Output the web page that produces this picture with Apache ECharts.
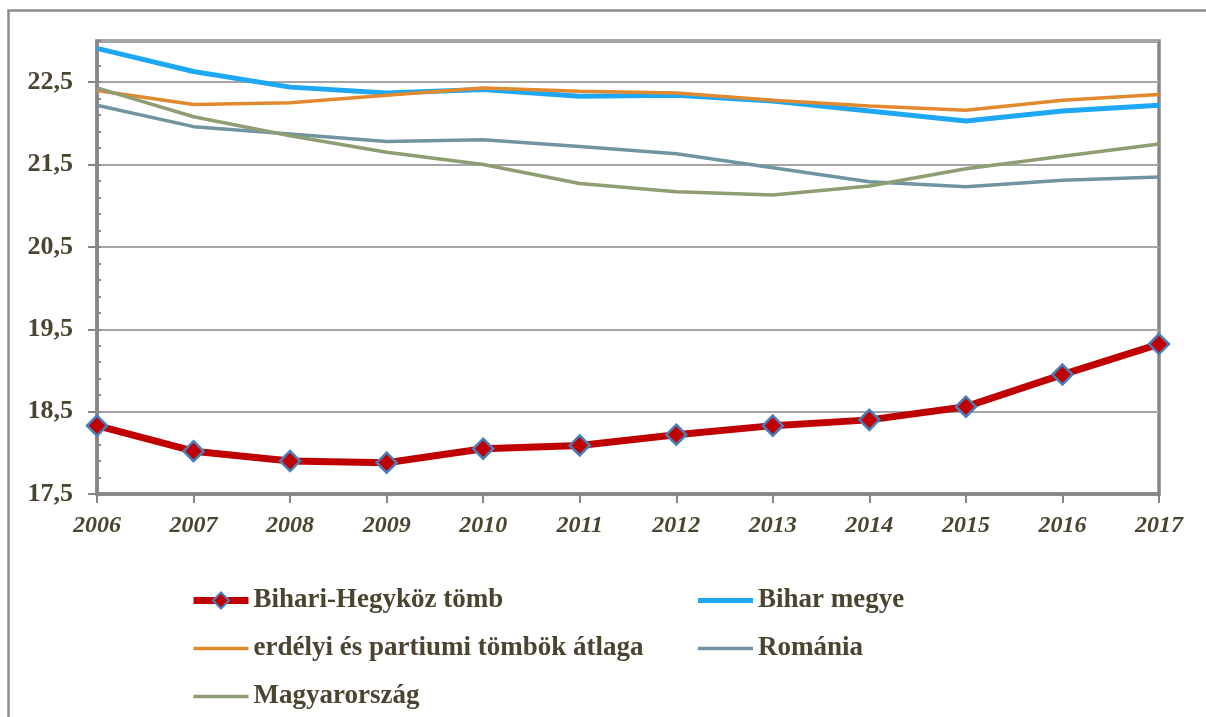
<!DOCTYPE html>
<html>
<head>
<meta charset="utf-8">
<script src="https://cdn.jsdelivr.net/npm/echarts@6/dist/echarts.min.js"></script>
<style>
  html, body { margin: 0; padding: 0; background: #fff; }
  #chart { width: 1206px; height: 717px; }
</style>
</head>
<body>
<div id="chart"></div>
<script>
// years on the x axis
var years = ['2006', '2007', '2008', '2009', '2010', '2011', '2012', '2013', '2014', '2015', '2016', '2017'];

// values
var bihariHegykoz = [18.33, 18.02, 17.90, 17.88, 18.05, 18.09, 18.22, 18.33, 18.40, 18.56, 18.95, 19.32];
var biharMegye = [22.91, 22.63, 22.44, 22.37, 22.41, 22.33, 22.34, 22.27, 22.15, 22.03, 22.15, 22.22];
var erdelyiAtlag = [22.40, 22.23, 22.25, 22.34, 22.43, 22.39, 22.37, 22.28, 22.21, 22.16, 22.28, 22.35];
var romania = [22.22, 21.96, 21.87, 21.78, 21.80, 21.72, 21.63, 21.46, 21.29, 21.23, 21.31, 21.35];
var magyarorszag = [22.43, 22.08, 21.85, 21.65, 21.50, 21.27, 21.17, 21.13, 21.24, 21.45, 21.60, 21.75];

var textColor = '#4a4430';
var serif = 'Liberation Serif';

// legend icon: a plain bar for the series without markers
function barIcon(h) {
  return 'path://M0 0H55V' + h + 'H0Z';
}

var leftLegend = [
  { name: 'Bihari-Hegyköz tömb' },
  { name: 'erdélyi és partiumi tömbök átlaga', icon: barIcon(3.5) },
  { name: 'Magyarország', icon: barIcon(3.5) }
];
var rightLegend = [
  { name: 'Bihar megye', icon: barIcon(5) },
  { name: 'Románia', icon: barIcon(3.5) }
];

var myChart = echarts.init(document.getElementById('chart'));

var legendText = {
  fontFamily: serif,
  fontWeight: 'bold',
  fontSize: 27,
  color: textColor
};

var option = {
  animation: false,
  graphic: [{
    type: 'rect',
    shape: { x: 8.5, y: 10.5, width: 1400, height: 900 },
    style: { fill: 'none', stroke: '#8c8c8c', lineWidth: 2.5 },
    silent: true
  }],
  grid: {
    left: 97,
    right: 47,
    top: 41,
    bottom: 223,
    show: true,
    borderColor: '#868686',
    borderWidth: 3.5
  },
  legend: [{
    data: leftLegend,
    orient: 'vertical',
    left: 190,
    top: 587,
    padding: 0,
    itemWidth: 55,
    itemHeight: 20,
    itemGap: 21,
    symbolKeepAspect: true,
    lineStyle: { width: 'inherit' },
    textStyle: legendText
  }, {
    data: rightLegend,
    orient: 'vertical',
    left: 698,
    top: 587,
    padding: 0,
    itemWidth: 55,
    itemHeight: 20,
    itemGap: 21,
    symbolKeepAspect: true,
    lineStyle: { width: 'inherit' },
    textStyle: legendText
  }],
  xAxis: {
    type: 'category',
    data: years,
    boundaryGap: false,
    axisLine: { lineStyle: { color: '#868686', width: 3.5 } },
    axisTick: { show: true, length: 9, lineStyle: { color: '#868686', width: 2 } },
    axisLabel: {
      margin: 20,
      fontFamily: serif,
      fontWeight: 'bold',
      fontStyle: 'italic',
      fontSize: 24,
      color: textColor
    },
    splitLine: { show: false }
  },
  yAxis: [{
    type: 'value',
    min: 17.5,
    max: 23,
    interval: 1,
    axisLine: { show: true, lineStyle: { color: '#868686', width: 3.5 } },
    axisTick: { show: true, length: 9, lineStyle: { color: '#868686', width: 2 } },
    axisLabel: {
      margin: 24,
      showMaxLabel: false,
      fontFamily: serif,
      fontWeight: 'bold',
      fontSize: 26,
      color: textColor,
      formatter: function (v) { return v.toFixed(1).replace('.', ','); }
    },
    splitLine: { show: true, lineStyle: { color: '#a6a6a6', width: 2 } }
  }, {
    // only the small inner ticks every 0.2
    type: 'value',
    position: 'left',
    min: 17.5,
    max: 23,
    interval: 0.2,
    axisLine: { show: false },
    axisTick: { show: true, inside: true, length: 4, lineStyle: { color: '#868686', width: 2 } },
    axisLabel: { show: false },
    splitLine: { show: false }
  }],
  series: [{
    name: 'Bihar megye',
    type: 'line',
    data: biharMegye,
    symbol: 'none',
    lineStyle: { color: '#1ea7f5', width: 5 },
    itemStyle: { color: '#1ea7f5' }
  }, {
    name: 'erdélyi és partiumi tömbök átlaga',
    type: 'line',
    data: erdelyiAtlag,
    symbol: 'none',
    lineStyle: { color: '#e0892f', width: 3.5 },
    itemStyle: { color: '#e0892f' }
  }, {
    name: 'Románia',
    type: 'line',
    data: romania,
    symbol: 'none',
    lineStyle: { color: '#7094a0', width: 3.5 },
    itemStyle: { color: '#7094a0' }
  }, {
    name: 'Magyarország',
    type: 'line',
    data: magyarorszag,
    symbol: 'none',
    lineStyle: { color: '#8f9d72', width: 3.5 },
    itemStyle: { color: '#8f9d72' }
  }, {
    name: 'Bihari-Hegyköz tömb',
    type: 'line',
    data: bihariHegykoz,
    symbol: 'diamond',
    symbolSize: 20,
    lineStyle: { color: '#c00000', width: 7 },
    itemStyle: { color: '#c00000', borderColor: '#4a7ebb', borderWidth: 2.5 }
  }]
};

myChart.setOption(option);
</script>
</body>
</html>
